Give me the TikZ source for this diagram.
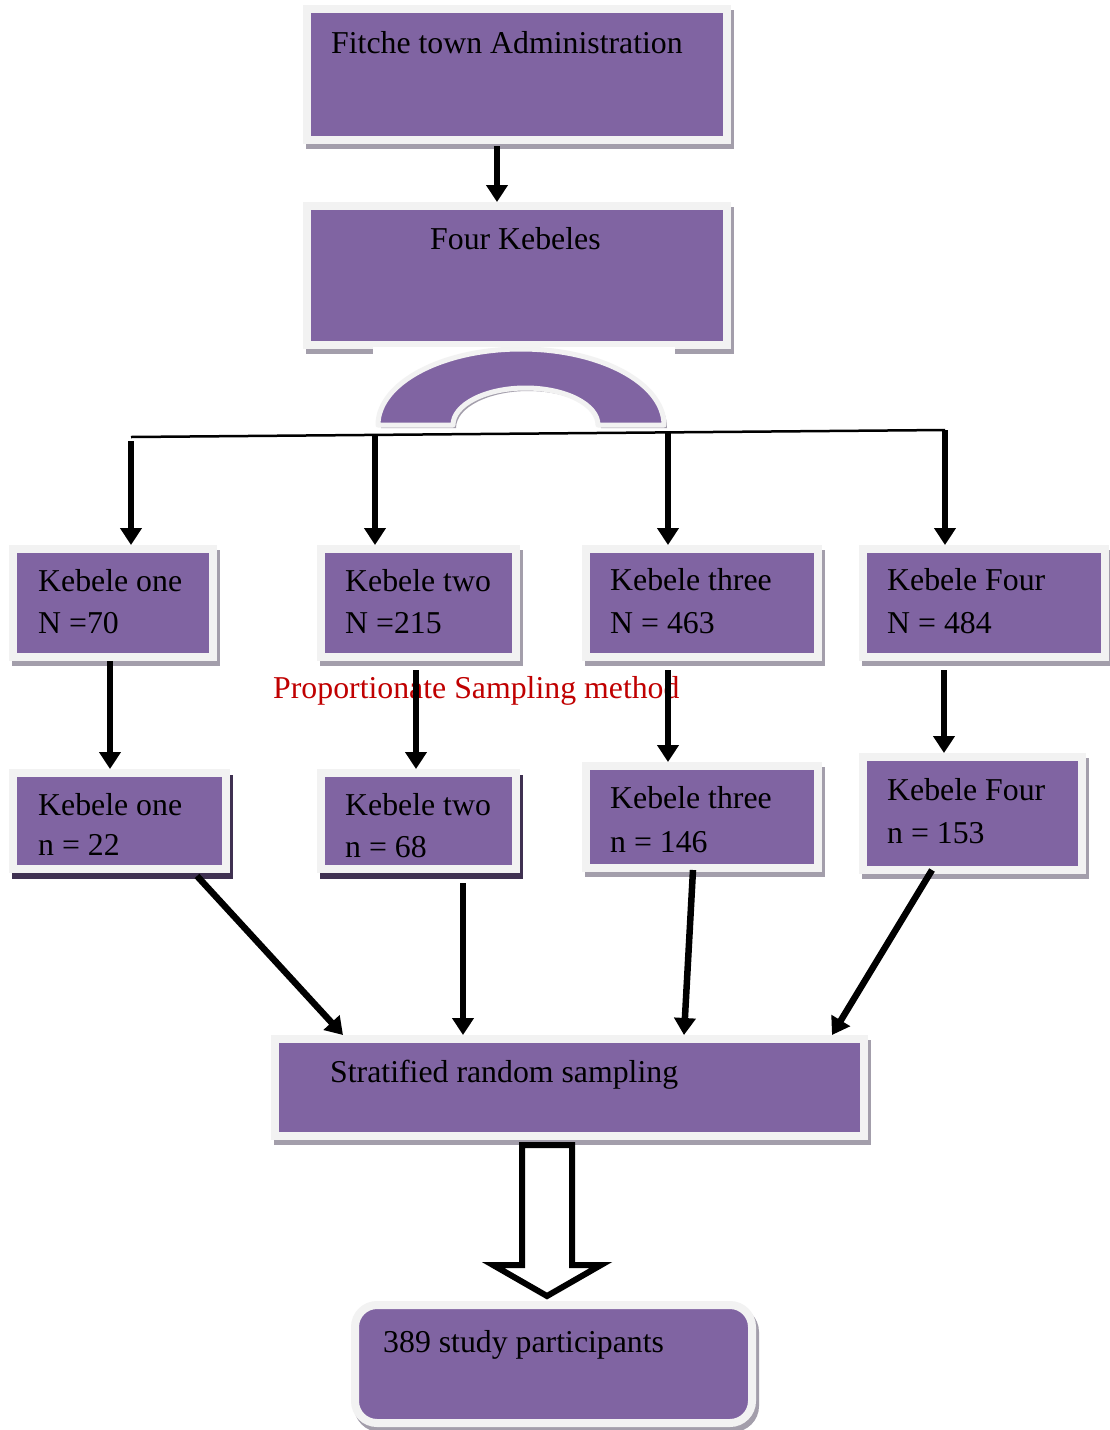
\documentclass[tikz,border=0pt]{standalone}
\usepackage{fontspec}
\setmainfont{Liberation Serif}
\usetikzlibrary{arrows.meta,calc}
\definecolor{purp}{HTML}{8064A2}
\definecolor{framec}{HTML}{F2F2F2}
\definecolor{shadc}{HTML}{A39EAB}
\definecolor{darkshad}{HTML}{3F3151}
\definecolor{redt}{HTML}{C00000}
\begin{document}
\begin{tikzpicture}[x=1pt,y=-1pt,
  kbox/.style={fill=purp, draw=framec, line width=8pt, inner sep=0pt, outer sep=4pt,
    preaction={fill=shadc, draw=shadc, line width=8pt, transform canvas={shift={(3pt,-5pt)}}}},
  dbox/.style={fill=purp, draw=framec, line width=8pt, inner sep=0pt, outer sep=4pt,
    preaction={fill=darkshad, draw=darkshad, line width=8pt, transform canvas={shift={(3pt,-6pt)}}}},
  txt/.style={font=\fontsize{31.8}{38}\selectfont, inner sep=0pt, anchor=base west},
  arr/.style={line width=6.5pt, -{Triangle[width=21pt,length=17pt]}},
  darr/.style={line width=6.5pt, -{Triangle[width=21pt,length=17pt]}}]
\useasboundingbox[fill=white] (0,0) rectangle (1109,1430);

% top boxes
\node[kbox, minimum width=420pt, minimum height=131pt] (b1) at (517,74.5) {};
\node[kbox, minimum width=420pt, minimum height=139pt] (b2) at (517,275.5) {};
\node[txt] (t1) at (331,53) {Fitche town Administration};
\node[txt] (t2) at (430,249) {Four Kebeles};
\draw[arr] ([xshift=-20pt,yshift=-2pt]b1.south) -- ([xshift=-20pt]b1.south |- b2.north);

% arch
\fill[white] (373,347) rectangle (675,436);
\path[fill=shadc] (381,428) arc[start angle=180, end angle=360, x radius=143, y radius=76]
  -- (601,428) arc[start angle=360, end angle=180, x radius=72.5, y radius=37] -- cycle;
\draw[fill=purp, draw=framec, line width=5pt, line join=round]
  (378,425) arc[start angle=180, end angle=360, x radius=143, y radius=76]
  -- (598,425) arc[start angle=360, end angle=180, x radius=72.5, y radius=37] -- cycle;

% distribution line
\coordinate (h1) at (131,437);
\coordinate (h2) at (375,434.9);
\coordinate (h3) at (668,432.4);
\coordinate (h4) at (945,430);
\draw[line width=2.5pt] (h1) -- (h4);

% first row
\node[kbox, minimum width=200pt, minimum height=108pt] (k1N) at (113,603) {};
\node[kbox, minimum width=195pt, minimum height=108pt] (k2N) at (418.5,603) {};
\node[kbox, minimum width=232pt, minimum height=108pt] (k3N) at (702,603) {};
\node[kbox, minimum width=242pt, minimum height=108pt] (k4N) at (984,603) {};
\node[txt] (a1) at (38,591) {Kebele one};
\node[txt] (a2) at (38,633) {N =70};
\node[txt] (b1t) at (345,591) {Kebele two};
\node[txt] (b2t) at (345,633) {N =215};
\node[txt] (c1) at (610,590) {Kebele three};
\node[txt] (c2) at (610,633) {N = 463};
\node[txt] (d1) at (887,590) {Kebele Four};
\node[txt] (d2) at (887,633) {N = 484};

\draw[arr] ([yshift=-4pt]h1) -- (h1 |- k1N.north);
\draw[arr] (h2) -- (h2 |- k2N.north);
\draw[arr] (h3) -- (h3 |- k3N.north);
\draw[arr] (h4) -- (h4 |- k4N.north);

% second row
\node[dbox, minimum width=213pt, minimum height=96pt] (k1n) at (119.5,821) {};
\node[dbox, minimum width=195pt, minimum height=96pt] (k2n) at (418.5,821) {};
\node[kbox, minimum width=232pt, minimum height=102pt] (k3n) at (702,817) {};
\node[kbox, minimum width=219pt, minimum height=113pt] (k4n) at (972.5,813.5) {};
\node[txt] (e1) at (38,815) {Kebele one};
\node[txt] (e2) at (38,855) {n = 22};
\node[txt] (f1) at (345,815) {Kebele two};
\node[txt] (f2) at (345,857) {n = 68};
\node[txt] (g1) at (610,808) {Kebele three};
\node[txt] (g2) at (610,852) {n = 146};
\node[txt] (i1) at (887,800) {Kebele Four};
\node[txt] (i2) at (887,843) {n = 153};

\node[txt, text=redt] (prop) at (273,698) {Proportionate Sampling method};

\draw[arr] ([xshift=-3pt]k1N.south) -- ([xshift=-3pt]k1N.south |- k1n.north);
\draw[arr] ([xshift=-2.5pt,yshift=-9pt]k2N.south) -- ([xshift=-2.5pt]k2N.south |- k2n.north);
\draw[arr] ([xshift=-34pt,yshift=-9pt]k3N.south) -- ([xshift=-34pt]k3N.south |- k3n.north);
\draw[arr] ([xshift=-40pt,yshift=-9pt]k4N.south) -- ([xshift=-40pt]k4N.south |- k4n.north);

% stratified
\node[kbox, minimum width=589pt, minimum height=97pt] (strat) at (569.5,1087.5) {};
\node[txt] (st) at (330,1082) {Stratified random sampling};

\draw[darr] ([xshift=77.5pt,yshift=-3pt]k1n.south) -- ([xshift=-226.5pt]strat.north);
\draw[darr] ([xshift=44.5pt,yshift=-10pt]k2n.south) -- ([xshift=-106.5pt]strat.north);
\draw[darr] ([xshift=-9pt,yshift=2pt]k3n.south) -- ([xshift=114.5pt]strat.north);
\draw[darr] ([xshift=-40.5pt,yshift=4pt]k4n.south) -- ([xshift=262.5pt]strat.north);

% final
\node[kbox, rounded corners=22pt, minimum width=397pt, minimum height=118pt] (fin) at (553.5,1364) {};
\node[txt] (ft) at (383,1352) {389 study participants};

% hollow block arrow
\draw[line width=6pt, fill=white, line join=miter]
  (522,1145) -- (572,1145) -- (572,1265) -- (601,1265) -- (547,1296)
  -- (493,1265) -- (522,1265) -- cycle;
\end{tikzpicture}
\end{document}
